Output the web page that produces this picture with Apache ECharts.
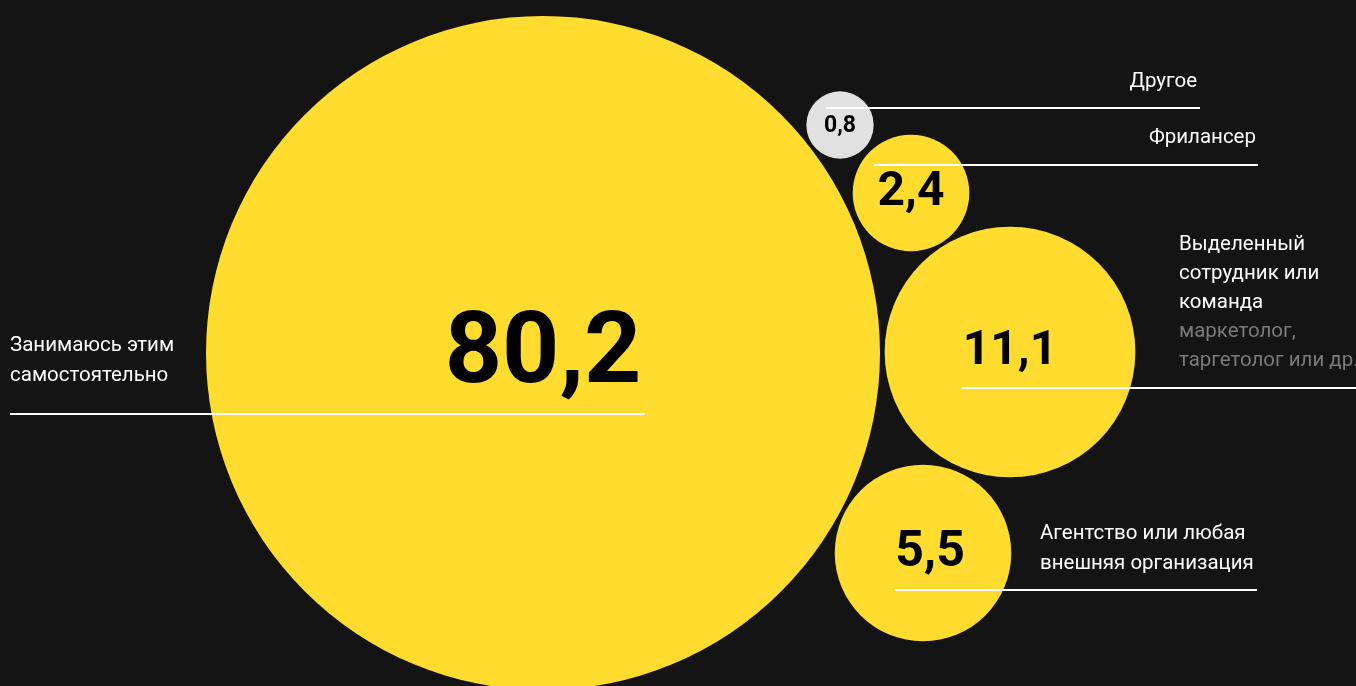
<!DOCTYPE html>
<html><head><meta charset="utf-8">
<script src="https://cdn.jsdelivr.net/npm/echarts@6/dist/echarts.min.js"></script>
<style>html,body{margin:0;padding:0;background:#141414;}#c{width:1356px;height:686px;}</style>
</head><body><div id="c"></div>
<script>
// Data
var categories = ['Занимаюсь этим самостоятельно','Выделенный сотрудник или команда','Агентство или любая внешняя организация','Фрилансер','Другое'];
var values = [80.2, 11.1, 5.5, 2.4, 0.8];
var valueLabels = ['80,2','11,1','5,5','2,4','0,8'];
// Layout (bubble centres in layout units)
var centers = [[543,353],[1010,352],[923,553],[911,193],[840,125]];
var colors = ['#FFDC2E','#FFDC2E','#FFDC2E','#FFDC2E','#E1E1E1'];
var labelSizes = [100,48,50,48,23];
var labelOffsets = [[0,4],[0,0],[7,0],[0,0],[0,1]];
var k = 337 / Math.sqrt(80.2);

var FONT = 'Roboto';
var chart = echarts.init(document.getElementById('c'));
var data = values.map(function(v,i){
  return {
    name: categories[i],
    value: [centers[i][0], centers[i][1], v],
    symbolSize: 2*k*Math.sqrt(v),
    itemStyle: {color: colors[i], opacity: 1},
    label: {show:true, position:'inside', formatter: valueLabels[i], fontSize: labelSizes[i], fontWeight: 'bold', color:'#000', fontFamily: FONT, offset: labelOffsets[i]}
  };
});
function line(x1,y,x2){return {type:'line', z:100, shape:{x1:x1,y1:y,x2:x2,y2:y}, style:{stroke:'#fff', lineWidth:2}};}
function txt(x,y,t,align){
  return {type:'text', z:100, x:x, y:y, style:{text:t, fill:'#fff', font:'20.5px '+FONT, textAlign:align||'left', textVerticalAlign:'middle', lineHeight:30}};
}
chart.setOption({
  backgroundColor:'#141414',
  animation:false,
  grid:{left:0,right:0,top:0,bottom:0},
  xAxis:{type:'value',min:0,max:1356,show:false},
  yAxis:{type:'value',min:0,max:686,inverse:true,show:false},
  series:[{type:'scatter', data:data, emphasis:{disabled:true}, itemStyle:{opacity:1}}],
  graphic:[
    line(826,108,1200), txt(1197,82,'Другое','right'),
    line(874,165,1258), txt(1256,138,'Фрилансер','right'),
    {type:'text', z:100, x:1179, y:230, style:{
      text:'{w|Выделенный}\n{w|сотрудник или}\n{w|команда}\n{g|маркетолог,}\n{g|таргетолог или др.}',
      rich:{w:{fill:'#fff', font:'20.5px '+FONT, lineHeight:29}, g:{fill:'#7a7a7a', font:'20.5px '+FONT, lineHeight:29}},
      textAlign:'left', textVerticalAlign:'top'}},
    line(962,388,1356),
    txt(1040,549,'Агентство или любая\nвнешняя организация','left'),
    line(895,590,1257),
    txt(10,361,'Занимаюсь этим\nсамостоятельно','left'),
    line(10,414,645)
  ]
});
</script></body></html>
